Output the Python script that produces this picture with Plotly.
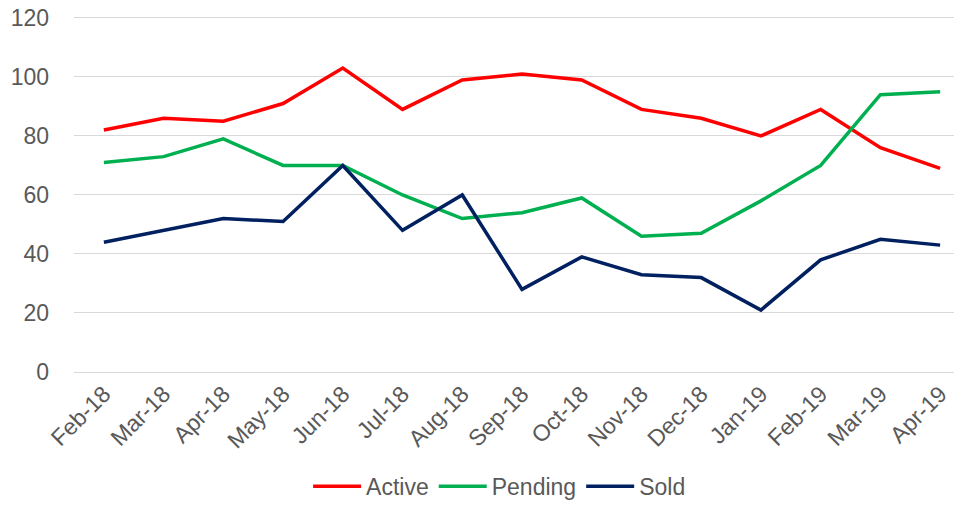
import plotly.graph_objects as go

months = ["Feb-18", "Mar-18", "Apr-18", "May-18", "Jun-18", "Jul-18", "Aug-18", "Sep-18",
          "Oct-18", "Nov-18", "Dec-18", "Jan-19", "Feb-19", "Mar-19", "Apr-19"]
active = [82, 86, 85, 91, 103, 89, 99, 101, 99, 89, 86, 80, 89, 76, 69]
pending = [71, 73, 79, 70, 70, 60, 52, 54, 59, 46, 47, 58, 70, 94, 95]
sold = [44, 48, 52, 51, 70, 48, 60, 28, 39, 33, 32, 21, 38, 45, 43]
y_ticks = [0, 20, 40, 60, 80, 100, 120]

series = [("Active", active, "#FF0000"), ("Pending", pending, "#00B050"), ("Sold", sold, "#002060")]

fig = go.Figure()
for name, vals, color in series:
    fig.add_trace(go.Scatter(x=months, y=vals, name=name, mode="lines",
                             line=dict(color=color, width=3.5)))

font = dict(family="Liberation Sans, Arial, sans-serif", size=23, color="#595959")
fig.update_layout(
    width=962, height=506,
    margin=dict(l=66, r=0, t=7, b=142, autoexpand=False),
    paper_bgcolor="white", plot_bgcolor="white",
    font=font,
    showlegend=True,
    legend=dict(orientation="h", x=0.475, xanchor="center", y=-0.32, yanchor="middle",
                font=font, itemwidth=48, traceorder="normal"),
    xaxis=dict(type="category", range=[-0.5, 14.5], tickangle=-45, showgrid=False,
               showline=False, ticks="", tickfont=font, automargin=False,
               ticklabelstandoff=3),
    yaxis=dict(range=[0, 121], tickvals=y_ticks, showgrid=True, gridcolor="#D9D9D9",
               gridwidth=1, zeroline=True, zerolinecolor="#D9D9D9", zerolinewidth=1,
               showline=False, ticks="", ticklabelstandoff=24, tickfont=font,
               automargin=False, ticklabeloverflow="allow"),
)
fig.write_html("out.html")
